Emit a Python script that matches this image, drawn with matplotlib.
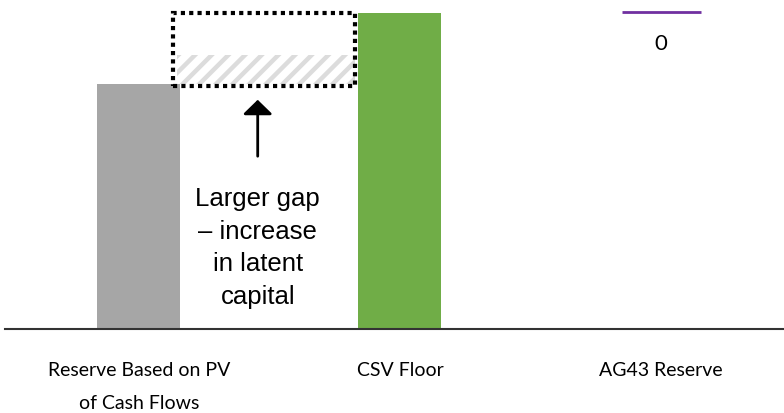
import matplotlib.pyplot as plt
from matplotlib.patches import Rectangle

# data (arbitrary units)
categories = ['Reserve Based on PV\nof Cash Flows', 'CSV Floor', 'AG43 Reserve']
bar_values = [245, 316, 0]
bar_colors = ['#A6A6A6', '#70AD47', 'none']
ag43_value = 317
ag43_label = '0'
hatch_top = 274

plt.rcParams['hatch.linewidth'] = 3.2
plt.rcParams['hatch.color'] = '#DCDCDC'

fig = plt.figure(figsize=(7.84, 4.14), dpi=100)
ax = fig.add_axes([5 / 784, 84 / 414, 779 / 784, 330 / 414])

width = 0.318
x = list(range(len(categories)))
ax.bar(x, bar_values, width=width, color=bar_colors, zorder=2)

# AG43 marker line + label
ax.hlines(ag43_value, x[2] - 0.15, x[2] + 0.152, color='#7030A0', lw=2)
ax.text(x[2], ag43_value - 31, ag43_label, ha='center', va='center',
        fontsize=16, family='Lato')

# gap box between the two bars
x0 = x[0] + width / 2 - 0.03
x1 = x[1] - width / 2 - 0.012
ax.add_patch(Rectangle((x0 + 0.015, bar_values[0]), x1 - x0 - 0.015, hatch_top - bar_values[0],
                       facecolor='white', edgecolor='#DCDCDC', hatch='//', lw=0, zorder=1))
ax.add_patch(Rectangle((x0, bar_values[0] - 2), x1 - x0, bar_values[1] - bar_values[0] + 2,
                       fill=False, edgecolor='black', lw=3, linestyle=(0, (1, 1)), zorder=3))

ax.annotate('', xy=(0.455, 232), xytext=(0.455, 170),
            arrowprops=dict(arrowstyle='-|>,head_length=0.35,head_width=0.36',
                            color='black', lw=2, mutation_scale=25))
ax.text(0.455, 82, 'Larger gap\n– increase\nin latent\ncapital', ha='center', va='center',
        fontsize=18.5, family='Liberation Sans', linespacing=1.45)

ax.set_xlim(-0.513, 2.471)
ax.set_ylim(0, 330)
ax.set_xticks(x)
ax.set_xticklabels(categories, fontsize=14, family='Lato', linespacing=2.15)
ax.tick_params(axis='x', length=0, pad=23)
ax.set_yticks([])
for s in ['top', 'right', 'left']:
    ax.spines[s].set_visible(False)
ax.spines['bottom'].set_linewidth(1.5)
ax.spines['bottom'].set_color('#333333')
ax.patch.set_alpha(0)

fig.savefig('out.png', dpi=100)
